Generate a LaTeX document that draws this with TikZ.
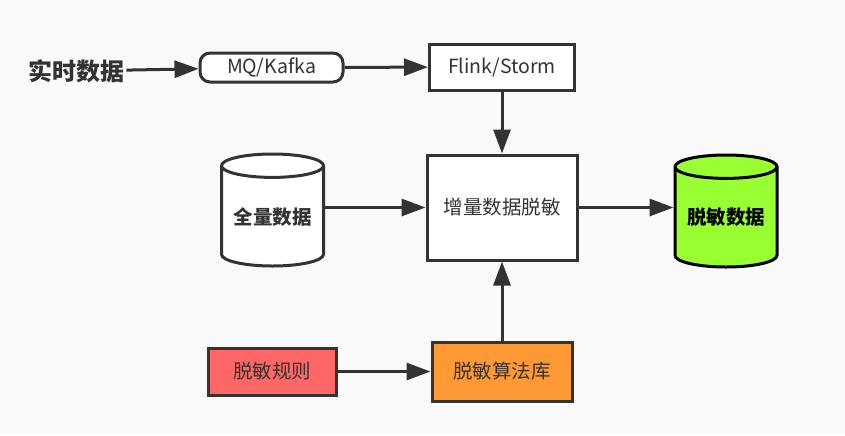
\documentclass[tikz,border=0pt]{standalone}
\usepackage{fontspec}
\setmainfont{Noto Sans CJK SC}
\usetikzlibrary{shapes.geometric,arrows.meta}

\definecolor{linha}{HTML}{333333}
\definecolor{fundo}{HTML}{F9F9F9}
\definecolor{verde}{HTML}{99FF33}
\definecolor{vermelho}{HTML}{FF6666}
\definecolor{laranja}{HTML}{FF9933}

\tikzset{
  caixa/.style={draw=linha, line width=1.5pt, fill=white, text=linha, inner sep=0pt,
    font=\fontsize{9.75pt}{11pt}\selectfont},
  banco/.style={cylinder, shape border rotate=90, aspect=0.3, draw=linha, line width=1.5pt,
    fill=white, text=linha, inner sep=0pt, minimum width=51pt, minimum height=56pt,
    anchor=shape center, font=\fontsize{9.75pt}{11pt}\selectfont\bfseries},
  seta/.style={draw=linha, line width=1.5pt, -{Triangle[length=12pt,width=8.5pt]}}
}

\begin{document}
\begin{tikzpicture}[x=0.5pt,y=-0.5pt]
  % Fundo
  \fill[fundo] (0,0) rectangle (845,435);
  \useasboundingbox (0,0) rectangle (845,435);

  % Entrada em tempo real
  \node[text=linha, inner sep=1pt, font=\fontsize{12pt}{14pt}\selectfont\bfseries] (real) at (76,71) {实时数据};
  \node[caixa, rounded corners=5pt, minimum width=71.5pt, minimum height=14.5pt] (mq) at (271.5,67.5) {MQ/Kafka};
  \node[caixa, minimum width=72.5pt, minimum height=23pt] (flink) at (502,67) {Flink/Storm};

  % Bloco central
  \node[caixa, minimum width=75pt, minimum height=52.5pt] (incr) at (502,207.5) {增量数据脱敏};
  \node[banco] (total) at (272.5,210) {全量数据};
  \node[banco, draw=black, fill=verde, text=black] (saida) at (726,211) {脱敏数据};

  % Regras e algoritmos
  \node[caixa, fill=vermelho, minimum width=64pt, minimum height=23.5pt] (regra) at (272,371.5) {脱敏规则};
  \node[caixa, fill=laranja, minimum width=70pt, minimum height=29.5pt] (algo) at (502,371.5) {脱敏算法库};

  % Setas
  \draw[seta] (real) -- (mq);
  \draw[seta] (mq) -- (flink);
  \draw[seta] (flink) -- (incr);
  \draw[seta] (total.east |- incr.west) -- (incr.west);
  \draw[seta] (incr.east) -- (saida.west |- incr.east);
  \draw[seta] (regra) -- (algo.west |- regra.east);
  \draw[seta] (algo) -- (incr);
\end{tikzpicture}
\end{document}
